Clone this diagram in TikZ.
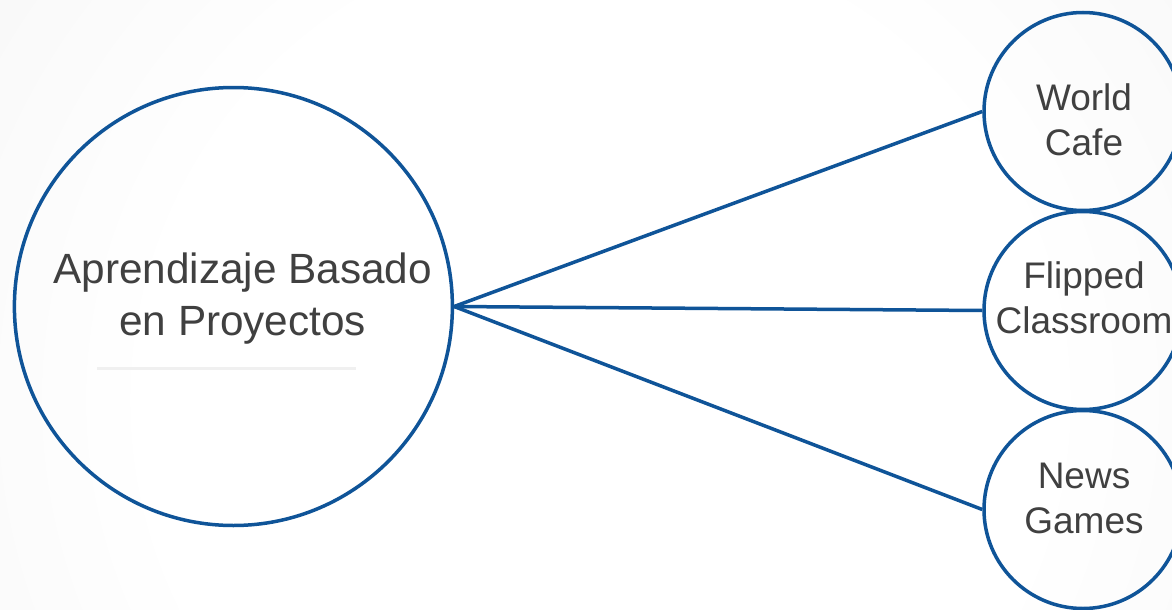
\documentclass[tikz,border=0pt]{standalone}
\usepackage{fontspec}
\setmainfont{Liberation Sans}
\definecolor{edgeblue}{RGB}{15,84,152}
\definecolor{txtgray}{RGB}{64,64,64}
\definecolor{bggray}{RGB}{234,234,234}
\definecolor{rulegray}{RGB}{240,240,240}
\pgfdeclareradialshading{bgshade}{\pgfpoint{0bp}{0bp}}{color(0bp)=(white); color(14bp)=(white); color(43bp)=(bggray); color(50bp)=(bggray)}
\tikzset{
  x=1pt, y=-1pt,
  circ/.style={circle, draw=edgeblue, line width=3.5pt, inner sep=0pt},
  bigcirc/.style={circ, minimum size=438pt},
  smallcirc/.style={circ, minimum size=198pt},
  conn/.style={draw=edgeblue, line width=3.5pt},
  bigtxt/.style={inner sep=0pt, align=center, text=txtgray, font=\fontsize{42.3}{52}\selectfont},
  smalltxt/.style={inner sep=0pt, align=center, text=txtgray, font=\fontsize{37}{44.5}\selectfont},
}
\begin{document}
\begin{tikzpicture}
\useasboundingbox (0,0) rectangle (1172,610);
\begin{scope}
\clip (0,0) rectangle (1172,610);
\shade[shading=bgshade] (600,400) circle (800);
\end{scope}
\draw[rulegray, line width=3pt] (97,368) -- (356,368);
\node[bigcirc] (abp) at (233.4,306.5) {};
\node[smallcirc] (wc) at (1083,111.5) {};
\node[smallcirc] (fc) at (1083,310.5) {};
\node[smallcirc] (ng) at (1083,509.5) {};
\node[bigtxt] (abptxt) at (242.7,298.3) {Aprendizaje Basado\\en Proyectos};
\node[smalltxt] (wctxt) at (1084,120) {World\\Cafe};
\node[smalltxt] (fctxt) at (1084,297.7) {Flipped\\Classroom};
\node[smalltxt] (ngtxt) at (1084,498.3) {News\\Games};
\draw[conn] (abp.east) -- (wc.west);
\draw[conn] (abp.east) -- (fc.west);
\draw[conn] (abp.east) -- (ng.west);
\end{tikzpicture}
\end{document}
